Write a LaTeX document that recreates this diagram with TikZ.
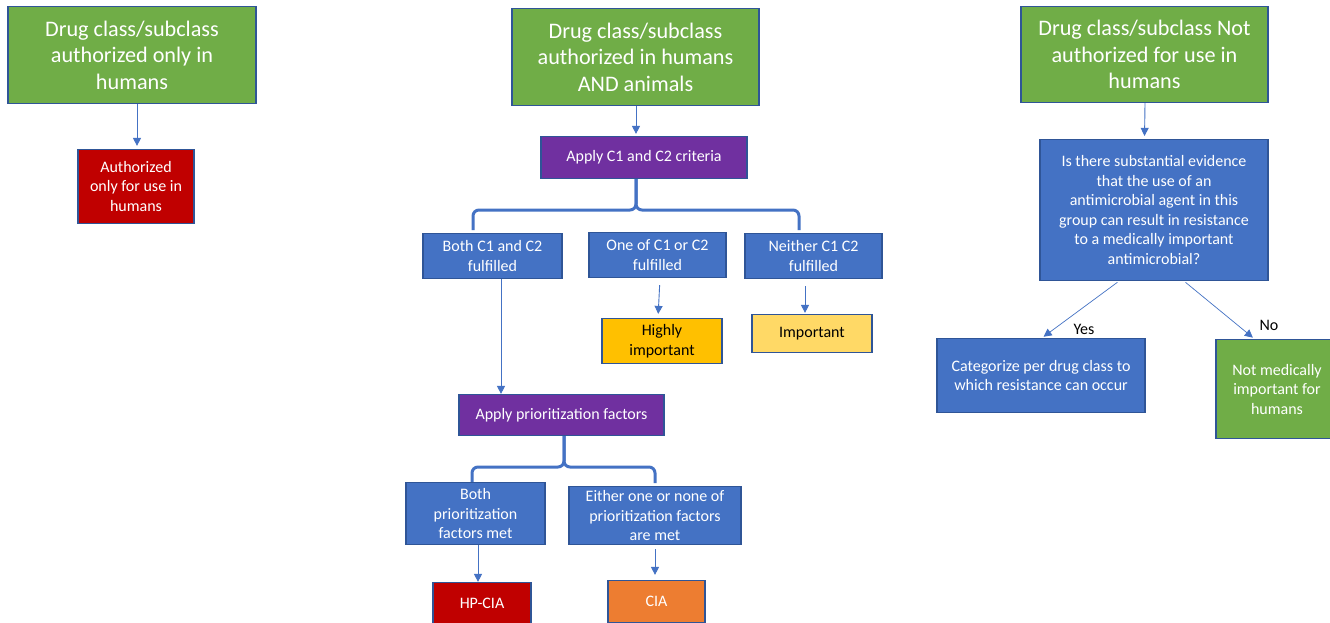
\documentclass[tikz,border=0pt]{standalone}
\usepackage{fontspec}
\setmainfont{Carlito}
\usetikzlibrary{arrows.meta}
\definecolor{cgreen}{HTML}{70AD47}
\definecolor{cblue}{HTML}{4472C4}
\definecolor{cpurple}{HTML}{7030A0}
\definecolor{cred}{HTML}{C00000}
\definecolor{corange}{HTML}{ED7D31}
\definecolor{cgold}{HTML}{FFC000}
\definecolor{cyellow}{HTML}{FFD966}
\definecolor{cborder}{HTML}{2F5597}
\tikzset{
  box/.style={draw=cborder, line width=1.2pt, text=white, inner sep=0pt, align=center},
  bigtxt/.style={font=\fontsize{22.2}{26.5}\selectfont},
  smalltxt/.style={font=\fontsize{16}{19.5}\selectfont},
  arr/.style={draw=cblue, line width=0.9pt, -{Triangle[width=8pt,length=8pt]}},
  brack/.style={draw=cblue, line width=3pt, rounded corners=6pt},
}
\begin{document}
\begin{tikzpicture}[x=1pt,y=-1pt]
\fill[white] (0,0) rectangle (1330,623);
\useasboundingbox (0,0) rectangle (1330,623);
% column 1
\node[box,bigtxt,fill=cgreen,minimum width=248,minimum height=97] (g1) at (132,55) {Drug class/subclass\\authorized only in\\humans};
\node[box,smalltxt,fill=cred,minimum width=116,minimum height=74] (r1) at (136,186.5) {Authorized\\only for use in\\humans};
\draw[arr,shorten >=3pt] ([xshift=5pt]g1.south) -- ([xshift=1pt]r1.north);
% column 2
\node[box,bigtxt,fill=cgreen,minimum width=247,minimum height=97] (g2) at (635.5,57) {Drug class/subclass\\authorized in humans\\AND animals};
\node[box,smalltxt,fill=cpurple,minimum width=206,minimum height=42] (crit) at (644,157.5) {Apply C1 and C2 criteria};
\draw[arr,shorten >=2pt] ([xshift=0.5pt]g2.south) -- ([xshift=-8pt]crit.north);
\node[box,smalltxt,fill=cblue,minimum width=139,minimum height=45] (both) at (492.5,256) {Both C1 and C2\\fulfilled};
\node[box,smalltxt,fill=cblue,minimum width=137,minimum height=45] (one) at (657.5,255) {One of C1 or C2\\fulfilled};
\node[box,smalltxt,fill=cblue,minimum width=137,minimum height=45] (neither) at (813.5,256) {Neither C1 C2\\fulfilled};
\coordinate (j1) at (636,210);
\draw[brack] ([xshift=-8pt]crit.south) -- (j1) -- (473,210) -- (473,230);
\draw[brack] ([xshift=-8pt]crit.south) -- (j1) -- (799,210) -- (799,230);
\node[box,smalltxt,fill=cgold,text=black,minimum width=120,minimum height=45] (high) at (662,341) {Highly\\important};
\node[box,smalltxt,fill=cyellow,text=black,minimum width=120,minimum height=38] (imp) at (812,333.5) {Important};
\draw[arr,shorten <=7pt,shorten >=4pt] ([xshift=2.5pt]one.south) -- ([xshift=0.5pt]one.south |- high.north);
\draw[arr,shorten <=7pt,shorten >=1pt] ([xshift=-8.5pt]neither.south) -- ([xshift=-8.5pt]neither.south |- imp.north);
\node[box,smalltxt,fill=cpurple,minimum width=205,minimum height=41] (prio) at (561.5,415) {Apply prioritization factors};
\draw[arr] ([xshift=8.5pt]both.south) -- ([xshift=8.5pt]both.south |- prio.north);
\coordinate (j2) at (564,467);
\draw[brack] (prio.south -| j2) -- (j2) -- (472,467) -- (472,483);
\draw[brack] (prio.south -| j2) -- (j2) -- (655,467) -- (655,483);
\node[box,smalltxt,fill=cblue,minimum width=139,minimum height=62] (bothp) at (475.5,513.5) {Both\\prioritization\\factors met};
\node[box,smalltxt,fill=cblue,minimum width=172,minimum height=58] (either) at (655,515.5) {Either one or none of\\prioritization factors\\are met};
\node[box,smalltxt,fill=cred,minimum width=98,minimum height=42] (hpcia) at (482,603.5) {HP-CIA};
\node[box,smalltxt,fill=corange,minimum width=97,minimum height=42] (cia) at (656.5,601.5) {CIA};
\draw[arr] ([xshift=2.5pt]bothp.south) -- ([xshift=-4pt]hpcia.north);
\draw[arr,shorten <=4pt,shorten >=5pt] (either.south) -- (either.south |- cia.north);
% column 3
\node[box,bigtxt,fill=cgreen,minimum width=247,minimum height=96] (g3) at (1144.5,54.5) {Drug class/subclass Not\\authorized for use in\\humans};
\node[box,smalltxt,fill=cblue,minimum width=228,minimum height=141] (q) at (1154,210) {Is there substantial evidence\\that the use of an\\antimicrobial agent in this\\group can result in resistance\\to a medically important\\antimicrobial?};
\draw[arr,shorten >=3pt] ([xshift=0.5pt]g3.south) -- (g3.south |- q.north);
\node[box,smalltxt,fill=cblue,minimum width=208,minimum height=74] (cat) at (1041,375.5) {Categorize per drug class to\\which resistance can occur};
\node[box,smalltxt,fill=cgreen,minimum width=122,minimum height=99] (notmed) at (1277,389) {Not medically\\important for\\humans};
\draw[arr,line width=0.7pt,shorten <=2pt,shorten >=2pt] ([xshift=-35pt]q.south) -- ([xshift=1pt]cat.north);
\draw[arr,line width=0.7pt,shorten <=2pt,shorten >=2pt] ([xshift=30pt]q.south) -- ([xshift=39pt]notmed.north west);
\node[smalltxt,inner sep=0pt] (yes) at (1084,329.5) {Yes};
\node[smalltxt,inner sep=0pt] (no) at (1269,325.5) {No};
\end{tikzpicture}
\end{document}
